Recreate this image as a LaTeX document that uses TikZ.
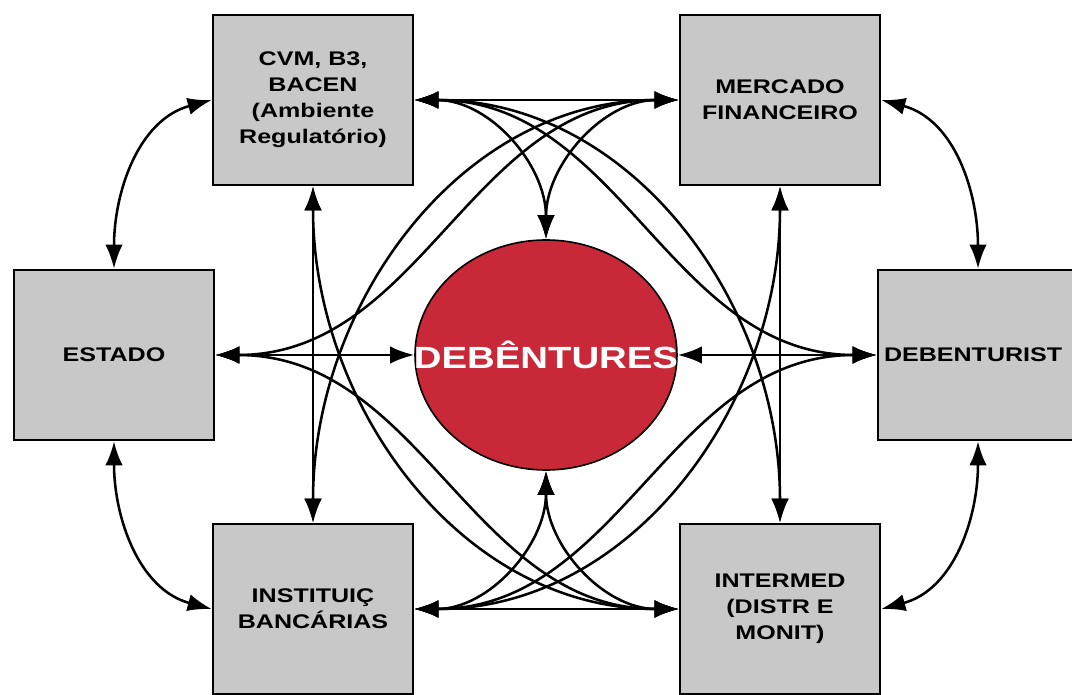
\documentclass[tikz,border=0pt]{standalone}
\usepackage{fontspec}
\setmainfont{Liberation Sans}
\newfontfamily\boxfont{Liberation Sans}[FakeStretch=1.27]
\newfontfamily\discfont{Liberation Sans}[FakeStretch=1.25]
\usetikzlibrary{shapes.geometric,arrows.meta}
\definecolor{boxgray}{RGB}{200,200,200}
\definecolor{discred}{RGB}{200,40,55}

\begin{document}
\begin{tikzpicture}[x=0.75pt,y=-0.75pt,
  box/.style={draw,line width=2pt,fill=boxgray,minimum width=150pt,minimum height=127.5pt,
    inner sep=0pt,align=center,font=\boxfont\bfseries\fontsize{14.8}{19.5}\selectfont},
  disc/.style={ellipse,draw,line width=1.2pt,fill=discred,minimum width=196.5pt,minimum height=172.5pt,inner sep=0pt},
  disctext/.style={text=white,inner sep=0pt,font=\discfont\bfseries\fontsize{23}{27}\selectfont},
  link/.style={line width=1.9pt,{Latex[length=18pt,width=13pt]}-{Latex[length=18pt,width=13pt]}}]
\useasboundingbox (0,0) rectangle (1072,695);
\fill[white] (0,0) rectangle (1072,695);
% boxes
\node[box] (cvm) at (313,100) {CVM, B3,\\BACEN\\(Ambiente\\Regulatório)};
\node[box] (merc) at (780,100) {MERCADO\\FINANCEIRO};
\node[box] (est) at (114,355) {ESTADO};
\node[box,text width=141pt,align=left,inner xsep=4.5pt] (dbt) at (978,355) {DEBENTURIST};
\node[box] (inst) at (313,609) {INSTITUIÇ\\BANCÁRIAS};
\node[box] (intm) at (780,609) {INTERMED\\(DISTR E\\MONIT)};
\node[disc] (deb) at (546,355) {};
\node[disctext] (debtxt) at (deb) {DEBÊNTURES};
% straight links
\foreach \a/\b in {cvm.south/inst.north, merc.south/intm.north, cvm.east/merc.west,
                   inst.east/intm.west, est.east/deb.west, dbt.west/deb.east}
  \draw[link] (\a) -- (\b);
% outer links
\foreach \a/\o/\i/\b in {est.north/90/195/cvm.west, est.south/-90/165/inst.west,
                         dbt.north/90/-15/merc.east, dbt.south/-90/15/intm.east}
  \draw[link] (\a) to[out=\o,in=\i] (\b);
% links to the disc
\foreach \a/\o/\i/\b in {cvm.east/0/90/deb.north, merc.west/180/90/deb.north,
                         inst.east/0/-90/deb.south, intm.west/180/-90/deb.south}
  \draw[link] (\a) to[out=\o,in=\i] (\b);
% crossing links
\foreach \a/\o/\i/\b in {cvm.east/0/180/dbt.west, cvm.east/0/90/intm.north,
                         merc.west/180/0/est.east, merc.west/180/90/inst.north,
                         cvm.south/-90/180/intm.west, merc.south/-90/0/inst.east,
                         est.east/0/180/intm.west, dbt.west/180/0/inst.east}
  \draw[link] (\a) to[out=\o,in=\i] (\b);
\end{tikzpicture}
\end{document}
